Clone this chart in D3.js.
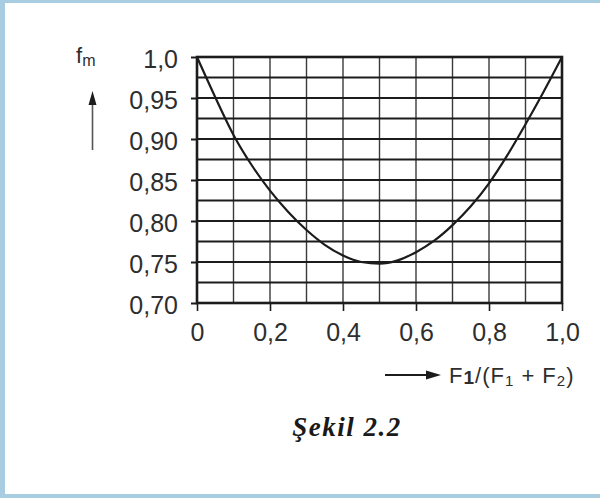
<!DOCTYPE html>
<html>
<head>
<meta charset="utf-8">
<script src="https://cdn.jsdelivr.net/npm/d3@7/dist/d3.min.js"></script>
<style>
  html, body { margin: 0; padding: 0; background: #fff; }
  svg { display: block; }
</style>
</head>
<body>
<svg id="chart" width="600" height="498"></svg>
<script>
// ---- data ----
const ratio = [0, 0.05, 0.1, 0.15, 0.2, 0.25, 0.3, 0.35, 0.4, 0.45, 0.5, 0.55, 0.6, 0.65, 0.7, 0.75, 0.8, 0.85, 0.9, 0.95, 1.0];
const fm    = [1.0, 0.951, 0.905, 0.868, 0.837, 0.811, 0.789, 0.771, 0.758, 0.750, 0.748, 0.752, 0.762, 0.776, 0.795, 0.818, 0.846, 0.880, 0.918, 0.958, 1.0];
const yTicks = [0.70, 0.75, 0.80, 0.85, 0.90, 0.95, 1.0];
const yTickLabels = ["0,70", "0,75", "0,80", "0,85", "0,90", "0,95", "1,0"];
const xTicks = [0, 0.2, 0.4, 0.6, 0.8, 1.0];
const xTickLabels = ["0", "0,2", "0,4", "0,6", "0,8", "1,0"];
const hGrid = [0.725, 0.75, 0.775, 0.8, 0.825, 0.85, 0.875, 0.9, 0.925, 0.95, 0.975];
const vGrid = [0.1, 0.2, 0.3, 0.4, 0.5, 0.6, 0.7, 0.8, 0.9];
const caption = "Şekil 2.2";

const svg = d3.select("#chart");
const ink = "#1c1c1c";
const textInk = "#2e2e2e";
const sans = "'Liberation Sans', Arial, sans-serif";

// page frame (light blue border of the original screenshot)
svg.append("rect").attr("x", 0).attr("y", 0).attr("width", 600).attr("height", 498).attr("fill", "#a9cde0");
svg.append("rect").attr("x", 5).attr("y", 3).attr("width", 595).attr("height", 491).attr("fill", "#ffffff");

const x = d3.scaleLinear().domain([0, 1]).range([197, 562]);
const y = d3.scaleLinear().domain([0.70, 1.0]).range([303, 57]);

// grid
svg.append("g").selectAll("line").data(vGrid).join("line")
  .attr("x1", d => x(d)).attr("x2", d => x(d))
  .attr("y1", y(1.0)).attr("y2", y(0.70))
  .attr("stroke", "#3a3a3a").attr("stroke-width", 1.4);
svg.append("g").selectAll("line").data(hGrid).join("line")
  .attr("x1", x(0)).attr("x2", x(1))
  .attr("y1", d => y(d)).attr("y2", d => y(d))
  .attr("stroke", ink).attr("stroke-width", 2.2);

// axes
const yAxis = d3.axisLeft(y).tickValues(yTicks)
  .tickFormat((d, i) => yTickLabels[i]).tickSize(6).tickPadding(13);
const gy = svg.append("g").attr("transform", `translate(${x(0)},0)`).call(yAxis);
gy.select(".domain").remove();
gy.selectAll(".tick line").attr("stroke", ink).attr("stroke-width", 2);
gy.selectAll(".tick text").attr("fill", textInk)
  .style("font-family", sans).style("font-size", "25px")
  .attr("dy", "0.42em");

const xAxis = d3.axisBottom(x).tickValues(xTicks)
  .tickFormat((d, i) => xTickLabels[i]).tickSize(8).tickPadding(12);
const gx = svg.append("g").attr("transform", `translate(0,${y(0.70)})`).call(xAxis);
gx.select(".domain").remove();
gx.selectAll(".tick line").attr("stroke", ink).attr("stroke-width", 1.6);
gx.selectAll(".tick text").attr("fill", textInk)
  .style("font-family", sans).style("font-size", "25px");

// frame
svg.append("rect")
  .attr("x", x(0)).attr("y", y(1.0))
  .attr("width", x(1) - x(0)).attr("height", y(0.70) - y(1.0))
  .attr("fill", "none").attr("stroke", ink).attr("stroke-width", 2.6);

// curve
const pts = ratio.map((r, i) => [r, fm[i]]);
svg.append("path").datum(pts)
  .attr("d", d3.line().x(d => x(d[0])).y(d => y(d[1])).curve(d3.curveMonotoneX))
  .attr("fill", "none").attr("stroke", ink).attr("stroke-width", 2.2);

// y title: f_m with up arrow
const yt = svg.append("text").attr("x", 76).attr("y", 63).attr("fill", textInk)
  .style("font-family", sans).style("font-size", "22px");
yt.append("tspan").text("f");
yt.append("tspan").attr("dy", 3).style("font-size", "16px").text("m");
svg.append("line").attr("x1", 92.5).attr("x2", 92.5).attr("y1", 102).attr("y2", 150)
  .attr("stroke", "#555").attr("stroke-width", 1.6);
svg.append("path").attr("d", "M92.5,91 L96.5,105 L88.5,105 Z").attr("fill", ink);

// x title: arrow + F1/(F1 + F2)
svg.append("line").attr("x1", 385).attr("x2", 428).attr("y1", 375).attr("y2", 375)
  .attr("stroke", ink).attr("stroke-width", 1.8);
svg.append("path").attr("d", "M441,375 L426,370.5 L426,379.5 Z").attr("fill", ink);
const xt = svg.append("text").attr("x", 449).attr("y", 383).attr("fill", textInk)
  .style("font-family", sans).style("font-size", "22px").style("letter-spacing", "1px");
xt.append("tspan").text("F");
xt.append("tspan").attr("dy", 1).style("font-weight", "bold").style("font-size", "19px").text("1");
xt.append("tspan").attr("dy", -1).text("/(F");
xt.append("tspan").attr("dy", 3).style("font-size", "15px").text("1");
xt.append("tspan").attr("dy", -3).text(" + F");
xt.append("tspan").attr("dy", 3).style("font-size", "15px").text("2");
xt.append("tspan").attr("dy", -3).text(")");

// caption
svg.append("text").attr("x", 347).attr("y", 436).attr("text-anchor", "middle")
  .attr("fill", "#1a1a1a")
  .style("font-family", "'Liberation Serif', 'Times New Roman', serif")
  .style("font-style", "italic").style("font-weight", "bold")
  .style("font-size", "27px").style("letter-spacing", "1.5px")
  .text(caption);
</script>
</body>
</html>
